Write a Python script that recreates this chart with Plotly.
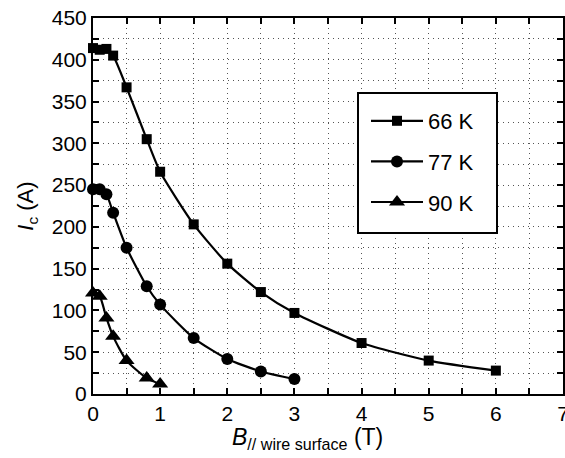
import plotly.graph_objects as go

# Data
b_66 = [0, 0.1, 0.2, 0.3, 0.5, 0.8, 1.0, 1.5, 2.0, 2.5, 3.0, 4.0, 5.0, 6.0]
ic_66 = [414, 412, 413, 405, 367, 305, 266, 203, 156, 122, 97, 61, 40, 28]

b_77 = [0, 0.1, 0.2, 0.3, 0.5, 0.8, 1.0, 1.5, 2.0, 2.5, 3.0]
ic_77 = [245, 245, 239, 217, 175, 129, 107, 67, 42, 27, 18]

b_90 = [0, 0.1, 0.2, 0.3, 0.5, 0.8, 1.0]
ic_90 = [121, 117, 91, 69, 40, 19, 12]

series = [
    ("66 K", b_66, ic_66, "square", 10),
    ("77 K", b_77, ic_77, "circle", 12),
    ("90 K", b_90, ic_90, "triangle-up", 14),
]

x_ticks = [i * 0.5 for i in range(15)]
x_text = [str(int(v)) if v == int(v) else "" for v in x_ticks]
y_ticks = [i * 25 for i in range(19)]
y_text = [str(v) if v % 50 == 0 else "" for v in y_ticks]

FONT = "Liberation Sans, Arial, sans-serif"

fig = go.Figure()
for i, (name, xs, ys, sym, sz) in enumerate(series):
    fig.add_trace(go.Scatter(
        x=xs, y=ys, name=name, mode="lines+markers",
        line=dict(color="black", width=2.2, shape="spline", smoothing=0.6),
        marker=dict(symbol=sym, size=sz, color="black"),
        cliponaxis=False, legendgroup=str(i),
    ))

axis_common = dict(
    showline=True, linecolor="black", linewidth=2, mirror="allticks",
    ticks="inside", ticklen=6, tickwidth=1.5, tickcolor="black",
    showgrid=True, gridcolor="#555", griddash="1px,4px", gridwidth=1,
    zeroline=False, tickfont=dict(family=FONT, size=21, color="black"),
    ticklabeloverflow="allow", automargin=False,
)

fig.update_xaxes(range=[0, 7], tickmode="array", tickvals=x_ticks, ticktext=x_text,
                 **axis_common)
fig.update_yaxes(range=[0, 450], tickmode="array", tickvals=y_ticks, ticktext=y_text,
                 title=dict(text="<i>I</i><sub>c</sub> (A)",
                            font=dict(family=FONT, size=22, color="black"), standoff=12),
                 **axis_common)

# x-axis title as annotation (positioned as in the reference)
fig.add_annotation(
    text="<i>B</i><sub>// wire surface</sub> (T)",
    xref="paper", yref="paper", x=(307 - 93) / 470, y=-(438 - 394) / 376,
    xanchor="center", yanchor="middle", showarrow=False,
    font=dict(family=FONT, size=23, color="black"),
)

# legend frame
fig.add_shape(type="rect", xref="paper", yref="paper",
              x0=(358 - 93) / 470, x1=(497 - 93) / 470,
              y0=(394 - 233) / 376, y1=(394 - 93) / 376,
              line=dict(color="black", width=2), fillcolor="white", layer="above")

fig.update_layout(
    width=565, height=458,
    margin=dict(l=93, r=2, t=18, b=64),
    paper_bgcolor="white", plot_bgcolor="white",
    font=dict(family=FONT, color="black"),
    legend=dict(x=(366 - 93) / 470, y=(394 - 100) / 376, xanchor="left", yanchor="top",
                bgcolor="rgba(0,0,0,0)", borderwidth=0,
                font=dict(family=FONT, size=22, color="black"),
                traceorder="grouped", tracegroupgap=9, itemwidth=52),
    showlegend=True,
)

fig.write_html("out.html")
